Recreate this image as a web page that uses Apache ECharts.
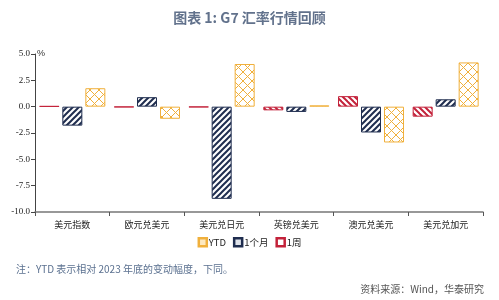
<!DOCTYPE html>
<html>
<head>
<meta charset="utf-8">
<script src="https://cdn.jsdelivr.net/npm/echarts@6/dist/echarts.min.js"></script>
<style>
  html, body { margin: 0; padding: 0; background: #fff; }
  #chart { width: 499px; height: 300px; }
</style>
</head>
<body>
<div id="chart"></div>
<script>
var categories = ['美元指数', '欧元兑美元', '美元兑日元', '英镑兑美元', '澳元兑美元', '美元兑加元'];
var weekValues = [0.05, -0.05, -0.05, -0.35, 1.0, -0.95];
var monthValues = [-1.8, 0.9, -8.75, -0.5, -2.45, 0.7];
var ytdValues = [1.75, -1.15, 4.05, 0.12, -3.4, 4.2];

var red = '#c3223a';
var navy = '#1f2d4f';
var gold = '#f0b03c';

// striped / crosshatched fills
function hatch(color, kind) {
    var size = kind === 'cross' ? 9 : 6;
    var c = document.createElement('canvas');
    c.width = size;
    c.height = size;
    var ctx = c.getContext('2d');
    ctx.fillStyle = '#fff';
    ctx.fillRect(0, 0, size, size);
    ctx.strokeStyle = color;
    ctx.lineWidth = kind === 'cross' ? 1 : 2;
    function line(x1, y1, x2, y2) {
        ctx.beginPath();
        ctx.moveTo(x1, y1);
        ctx.lineTo(x2, y2);
        ctx.stroke();
    }
    if (kind === 'back' || kind === 'cross') {
        line(-1, -1, size + 1, size + 1);
        line(-1, size - 1, 1, size + 1);
        line(size - 1, -1, size + 1, 1);
    }
    if (kind === 'fwd' || kind === 'cross') {
        line(-1, size + 1, size + 1, -1);
        line(-1, 1, 1, -1);
        line(size - 1, size + 1, size + 1, size - 1);
    }
    return { image: c, repeat: 'repeat' };
}

var dom = document.getElementById('chart');
var myChart = echarts.init(dom, null, { renderer: 'canvas' });

var labelFont = '"Noto Sans CJK SC", sans-serif';

var option = {
    animation: false,
    title: [
        {
            text: '图表 1: G7 汇率行情回顾',
            left: 'center',
            top: 6,
            textStyle: { fontSize: 14, fontWeight: 'bold', color: '#62728c', fontFamily: labelFont }
        },
        {
            text: '注：YTD 表示相对 2023 年底的变动幅度，下同。',
            left: 11,
            top: 259,
            textStyle: { fontSize: 10, fontWeight: 'normal', color: '#5b7190', fontFamily: labelFont }
        },
        {
            text: '资料来源：Wind，华泰研究',
            right: 10,
            top: 279,
            textStyle: { fontSize: 10, fontWeight: 'normal', color: '#555', fontFamily: labelFont }
        }
    ],
    graphic: [
        {
            type: 'text',
            left: 37,
            top: 49,
            style: { text: '%', fontSize: 9, fill: '#333', fontFamily: 'Liberation Sans' }
        }
    ],
    legend: {
        data: [
            { name: 'YTD', itemStyle: { color: '#fde9c0', borderColor: gold, borderWidth: 2.5 } },
            { name: '1个月', itemStyle: { color: '#dfe3ea', borderColor: navy, borderWidth: 2.5 } },
            { name: '1周', itemStyle: { color: '#fff', borderColor: red, borderWidth: 2.5 } }
        ],
        left: 'center',
        top: 232,
        icon: 'rect',
        itemWidth: 8,
        itemHeight: 8,
        itemGap: 7,
        textStyle: { fontSize: 9.5, color: '#222', fontFamily: labelFont, padding: [0, 0, 0, -3] }
    },
    grid: { left: 35, right: 16, top: 54, bottom: 88 },
    xAxis: {
        type: 'category',
        data: categories,
        axisLine: { onZero: false, lineStyle: { color: '#777', width: 1.5 } },
        axisTick: { show: true, length: 4, lineStyle: { color: '#555' } },
        axisLabel: { fontSize: 9, color: '#222', fontFamily: labelFont, margin: 8 }
    },
    yAxis: {
        type: 'value',
        min: -10,
        max: 5,
        interval: 2.5,
        splitLine: { show: false },
        axisLine: { show: true, lineStyle: { color: '#444' } },
        axisTick: { show: true, length: 4, lineStyle: { color: '#444' } },
        axisLabel: {
            fontSize: 9,
            color: '#222',
            fontFamily: 'Liberation Serif',
            margin: 5,
            formatter: function (v) { return v.toFixed(1); }
        }
    },
    series: [
        {
            name: '1周',
            type: 'bar',
            data: weekValues,
            barWidth: 20,
            barGap: '15%',
            itemStyle: { color: hatch(red, 'back'), borderColor: red, borderWidth: 1 }
        },
        {
            name: '1个月',
            type: 'bar',
            data: monthValues,
            barWidth: 20,
            barGap: '15%',
            itemStyle: { color: hatch(navy, 'fwd'), borderColor: navy, borderWidth: 1 }
        },
        {
            name: 'YTD',
            type: 'bar',
            data: ytdValues,
            barWidth: 20,
            barGap: '15%',
            itemStyle: { color: hatch(gold, 'cross'), borderColor: gold, borderWidth: 1 }
        }
    ]
};

myChart.setOption(option);
window.addEventListener('resize', myChart.resize);
</script>
</body>
</html>
